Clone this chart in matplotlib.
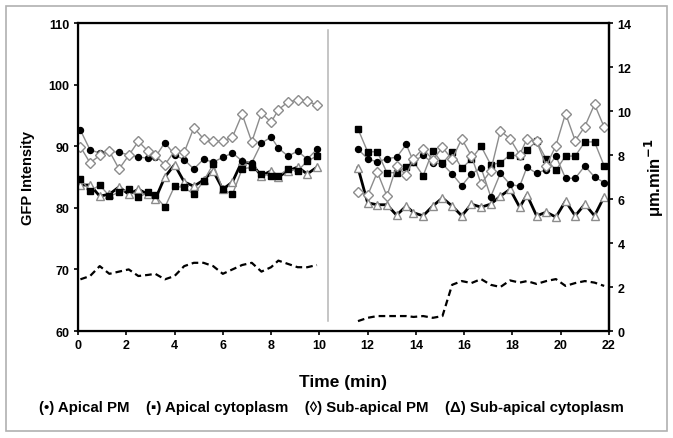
import matplotlib.pyplot as plt
from matplotlib.patches import Rectangle

# sampling times (min) of the two recording periods
t_left = [0.1, 0.5, 0.9, 1.3, 1.7, 2.1, 2.5, 2.9, 3.2, 3.6, 4.0, 4.4, 4.8,
          5.2, 5.6, 6.0, 6.4, 6.8, 7.2, 7.6, 8.0, 8.3, 8.7, 9.1, 9.5, 9.9]
t_right = [11.6, 12.0, 12.4, 12.8, 13.2, 13.6, 13.9, 14.3, 14.7, 15.1, 15.5,
           15.9, 16.3, 16.7, 17.1, 17.5, 17.9, 18.3, 18.6, 19.0, 19.4, 19.8,
           20.2, 20.6, 21.0, 21.4, 21.8]

# GFP intensity, left period
apical_pm_l = [92.6, 89.4, 88.9, 89.2, 89.0, 88.6, 88.2, 88.1, 88.2, 90.6, 88.6, 87.8, 86.3,
               87.9, 87.4, 88.2, 88.9, 87.6, 87.3, 90.5, 91.5, 89.7, 88.4, 89.2, 87.9, 89.5]
apical_cyt_l = [84.7, 82.7, 83.7, 81.9, 82.5, 83.0, 81.7, 82.5, 82.0, 80.1, 83.5, 83.3, 82.2,
                84.3, 87.1, 83.0, 82.2, 86.3, 86.6, 85.5, 85.2, 85.2, 86.3, 86.0, 87.6, 88.4]
sub_pm_l = [89.9, 87.3, 88.5, 89.2, 86.3, 88.5, 90.8, 89.2, 88.5, 87.0, 89.2, 89.0, 93.0,
            91.2, 90.8, 90.8, 91.5, 95.2, 90.7, 95.4, 93.9, 95.9, 97.2, 97.5, 97.3, 96.7]
sub_cyt_l = [83.7, 83.7, 81.9, 82.2, 83.4, 82.2, 83.0, 82.2, 81.4, 85.0, 87.0, 84.2, 83.5,
             84.5, 86.0, 83.0, 84.2, 87.6, 87.1, 85.2, 86.0, 85.0, 86.0, 86.6, 85.5, 86.6]

# GFP intensity, right period
apical_pm_r = [89.5, 88.0, 87.4, 88.0, 88.2, 90.3, 87.5, 88.5, 87.3, 87.1, 85.5, 83.6, 85.5,
               86.5, 81.8, 85.6, 83.8, 83.5, 86.6, 85.6, 86.2, 88.4, 84.8, 84.8, 86.8, 85.0, 84.1]
apical_cyt_r = [92.8, 89.1, 89.1, 85.7, 85.7, 86.7, 87.5, 85.2, 89.3, 87.2, 89.1, 86.4, 87.9,
                90.0, 87.0, 87.3, 88.6, 88.4, 89.4, 90.8, 87.9, 86.1, 88.4, 88.4, 90.7, 90.7, 86.8]
sub_pm_r = [82.6, 82.0, 85.8, 81.9, 86.8, 85.3, 88.0, 89.6, 87.8, 89.8, 87.9, 91.2, 88.4,
            83.9, 86.0, 92.5, 91.2, 88.6, 91.2, 90.8, 86.8, 90.1, 95.3, 90.9, 93.2, 96.8, 93.1]
sub_cyt_r = [86.5, 80.8, 80.5, 80.5, 78.8, 80.3, 79.2, 78.7, 80.3, 81.6, 80.3, 78.7, 80.6,
             80.1, 80.6, 81.9, 83.0, 80.1, 82.1, 78.7, 79.3, 78.5, 81.1, 78.7, 80.6, 78.7, 81.8]

# speed (um/min), right axis
speed_l = [2.35, 2.5, 2.95, 2.6, 2.7, 2.8, 2.5, 2.55, 2.6, 2.35, 2.5, 2.95, 3.1,
           3.1, 2.95, 2.6, 2.8, 3.0, 3.1, 2.7, 2.9, 3.2, 3.05, 2.9, 2.9, 3.0]
speed_r = [0.45, 0.6, 0.68, 0.68, 0.68, 0.68, 0.64, 0.68, 0.6, 0.68, 2.1, 2.27, 2.18,
           2.36, 2.1, 2.0, 2.3, 2.2, 2.27, 2.14, 2.27, 2.36, 2.05, 2.18, 2.27, 2.2, 2.05]

legend_text = "(\u2022) Apical PM    (\u25aa) Apical cytoplasm    (\u25ca) Sub-apical PM    (\u0394) Sub-apical cytoplasm"

fam = ['Liberation Sans', 'DejaVu Sans']
plt.rcParams['font.family'] = fam

fig = plt.figure(figsize=(6.73, 4.39), dpi=100)
fig.patches.append(Rectangle((0.009, 0.016), 0.982, 0.968, transform=fig.transFigure,
                             fill=False, edgecolor='#b0b0b0', linewidth=1.2))
ax = fig.add_axes([0.1159, 0.2437, 0.7890, 0.7016])

gray = '#8c8c8c'
for t, pm, cyt, spm, scyt in [(t_left, apical_pm_l, apical_cyt_l, sub_pm_l, sub_cyt_l),
                              (t_right, apical_pm_r, apical_cyt_r, sub_pm_r, sub_cyt_r)]:
    ax.plot(t, pm, color=gray, lw=1, marker='o', ms=4.3, mfc='black', mec='black', zorder=3)
    ax.plot(t, cyt, color=gray, lw=1, marker='s', ms=4.8, mfc='black', mec='black', zorder=3)
    ax.plot(t, spm, color=gray, lw=1, marker='D', ms=5, mfc='white', mec=gray, mew=1, zorder=3)
    ax.plot(t, scyt, color='black', lw=2, marker='^', ms=5.2, mfc='white', mec=gray, mew=1, zorder=2)

# separator between the two periods
ax.plot([10.35, 10.35], [108.9, 61.6], color='#b5b5b5', lw=1.1, zorder=1)

ax.set_xlim(0, 22)
ax.set_ylim(60, 110)
ax.set_xticks(range(0, 23, 2))
ax.set_yticks(range(60, 111, 10))
for s in ax.spines.values():
    s.set_linewidth(1.6)
ax.tick_params(direction='out', length=3, width=1.2, labelsize=9, pad=3)
for lab in ax.get_xticklabels() + ax.get_yticklabels():
    lab.set_fontweight('bold')

ax2 = ax.twinx()
for t, sp in [(t_left, speed_l), (t_right, speed_r)]:
    ax2.plot(t, sp, color='black', lw=1.6, linestyle=(0, (3, 1.8)))
ax2.set_ylim(0, 14)
ax2.set_yticks(range(0, 15, 2))
ax2.tick_params(direction='out', length=3, width=1.2, labelsize=9, pad=3)
for lab in ax2.get_yticklabels():
    lab.set_fontweight('bold')
ax2.spines['right'].set_linewidth(1.6)

ax.set_ylabel('GFP Intensity', fontsize=10.5, fontweight='bold', labelpad=10)
ax2.set_ylabel(r'μm.min$^{\mathbf{-1}}$', fontsize=12, fontweight='bold', labelpad=8)
ax.set_xlabel('Time (min)', fontsize=12.5, fontweight='bold', labelpad=16)

fig.text(0.493, 0.07, legend_text, ha='center', va='center', fontsize=10.8,
         fontweight='bold', family=fam)

plt.savefig('out.png', dpi=100)
